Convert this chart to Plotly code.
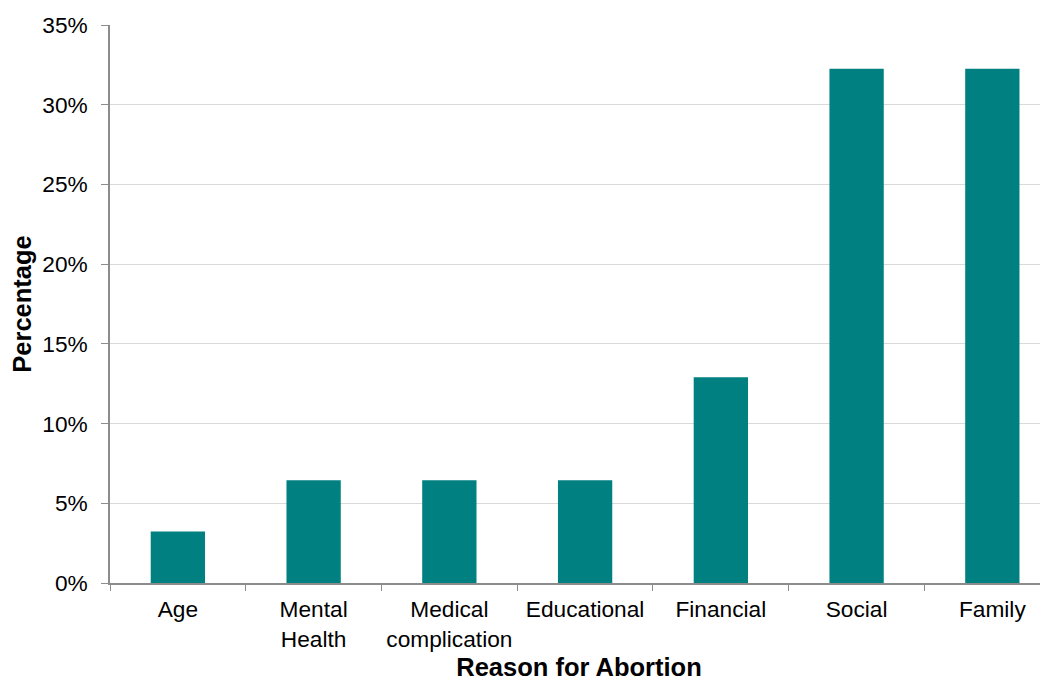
import plotly.graph_objects as go

# Data
reasons = ["Age", "Mental<br>Health", "Medical<br>complication", "Educational",
           "Financial", "Social", "Family"]
percentages = [3.23, 6.45, 6.45, 6.45, 12.90, 32.26, 32.26]
y_ticks = [0, 5, 10, 15, 20, 25, 30, 35]
y_tick_labels = ["0%", "5%", "10%", "15%", "20%", "25%", "30%", "35%"]

font_family = "Liberation Sans, Arial, sans-serif"

fig = go.Figure()
fig.add_trace(go.Bar(
    x=reasons,
    y=percentages,
    marker=dict(color="#008080", line=dict(width=0)),
    width=0.4,
))

# page body has an 8px margin, so the figure is sized/offset to fill the window
fig.update_layout(
    width=1040,
    height=673,
    margin=dict(l=102, r=0, t=17, b=98),
    plot_bgcolor="white",
    paper_bgcolor="white",
    showlegend=False,
    font=dict(family=font_family, size=22.7, color="#000000"),
    xaxis=dict(
        type="category",
        range=[-0.5, 6.41],
        automargin=False,
        showline=True,
        linecolor="#8c8c8c",
        linewidth=1.5,
        ticks="outside",
        tickson="boundaries",
        ticklen=6,
        tickcolor="#8c8c8c",
        ticklabelstandoff=5,
        showgrid=False,
        tickfont=dict(size=22.7),
        title=dict(text="<b>Reason for Abortion</b>", font=dict(size=25.5), standoff=18),
    ),
    yaxis=dict(
        range=[0, 35],
        tickvals=y_ticks,
        ticktext=y_tick_labels,
        automargin=False,
        showline=True,
        linecolor="#8c8c8c",
        linewidth=1.5,
        ticks="outside",
        ticklen=7,
        tickcolor="#8c8c8c",
        ticklabelstandoff=9,
        showgrid=True,
        gridcolor="#d9d9d9",
        gridwidth=1.2,
        zeroline=False,
        tickfont=dict(size=22.7),
        title=dict(text="<b>Percentage</b>", font=dict(size=25.5), standoff=8),
    ),
)

fig.write_html("out.html")
